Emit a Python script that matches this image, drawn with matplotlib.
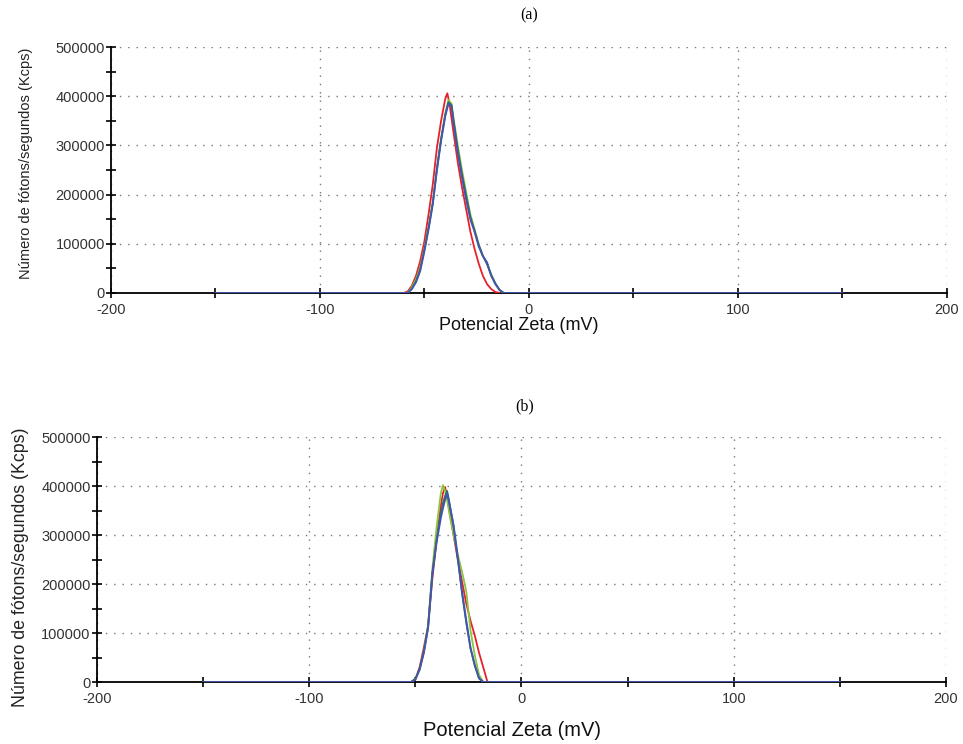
import matplotlib.pyplot as plt
from matplotlib.ticker import MultipleLocator

plt.rcParams['font.family'] = ['Liberation Sans', 'DejaVu Sans']
plt.rcParams['axes.unicode_minus'] = False

# panel (a) curves
red_a_x = [-60, -58, -56, -54, -52, -50, -48, -46, -44, -42, -40, -39, -38, -36, -34, -32, -30, -28, -26, -24, -22, -20, -18, -16, -14]
red_a_y = [0, 3000, 15000, 35000, 65000, 105000, 160000, 220000, 295000, 350000, 395000, 406000, 385000, 325000, 265000, 215000, 170000, 125000, 90000, 60000, 35000, 18000, 8000, 2000, 0]

ab_x = [-58, -56, -54, -52, -50, -48, -46, -44, -42, -40, -38.5, -37, -36, -34, -32, -30, -28, -26, -24, -22, -20, -18, -16, -14, -12]
green_a_y = [0, 12000, 28000, 52000, 90000, 135000, 185000, 255000, 315000, 365000, 392000, 385000, 355000, 300000, 250000, 205000, 160000, 130000, 100000, 75000, 60000, 38000, 20000, 6000, 0]
teal_a_y = [0, 9000, 24000, 48000, 88000, 132000, 182000, 252000, 312000, 362000, 388000, 382000, 350000, 292000, 242000, 198000, 155000, 127000, 98000, 76000, 58000, 36000, 19000, 6000, 0]
blue_a_y = [0, 8000, 22000, 45000, 85000, 130000, 180000, 250000, 310000, 360000, 385000, 380000, 345000, 285000, 235000, 190000, 150000, 125000, 95000, 75000, 62000, 35000, 18000, 6000, 0]

# panel (b) curves
x_b = [-52, -50, -48, -46, -44, -42, -40, -38, -37, -36, -35, -34, -32, -30, -28, -26, -24, -22, -20, -18, -16]
red_b_y = [0, 5000, 30000, 70000, 115000, 210000, 290000, 360000, 385000, 398000, 380000, 350000, 300000, 250000, 205000, 160000, 125000, 95000, 60000, 30000, 0]
green_b_y = [0, 8000, 25000, 60000, 115000, 230000, 315000, 385000, 402000, 390000, 370000, 345000, 300000, 260000, 225000, 185000, 105000, 55000, 15000, 0, 0]
teal_b_y = [0, 6000, 27000, 62000, 112000, 222000, 290000, 345000, 365000, 380000, 390000, 368000, 318000, 250000, 180000, 120000, 68000, 33000, 7000, 0, 0]
blue_b_y = [0, 5000, 25000, 60000, 110000, 220000, 285000, 335000, 355000, 372000, 385000, 365000, 320000, 255000, 185000, 125000, 70000, 35000, 8000, 0, 0]

x_ends = [-150, 150]

red = '#e5222c'
green = '#8cc63e'
teal = '#2a6f62'
blue = '#4256ad'


def style_axes(ax):
    ax.set_xlim(-200, 200)
    ax.set_ylim(0, 500000)
    ax.xaxis.set_major_locator(MultipleLocator(100))
    ax.xaxis.set_minor_locator(MultipleLocator(50))
    ax.yaxis.set_major_locator(MultipleLocator(100000))
    ax.yaxis.set_minor_locator(MultipleLocator(50000))
    ax.spines['top'].set_visible(False)
    ax.spines['right'].set_visible(False)
    ax.spines['left'].set_linewidth(1.3)
    ax.spines['bottom'].set_linewidth(1.3)
    ax.tick_params(which='both', direction='inout', length=7, width=1.2, labelsize=10.5, colors='black')
    ax.tick_params(axis='x', which='major', pad=4)
    ax.tick_params(axis='y', which='major', pad=1)
    ax.grid(True, which='major', linestyle=(0, (1, 5)), color='#777777', linewidth=1)
    ax.set_axisbelow(True)
    for lbl in ax.get_xticklabels() + ax.get_yticklabels():
        lbl.set_color('#333333')


fig = plt.figure(figsize=(9.63, 7.44), dpi=100)

ax1 = fig.add_axes([0.1153, 0.6062, 0.8677, 0.3306])
style_axes(ax1)
ax1.plot(red_a_x, red_a_y, color=red, lw=1.3, zorder=3)
ax1.plot(ab_x, green_a_y, color=green, lw=1.3, zorder=3)
ax1.plot(ab_x, teal_a_y, color=teal, lw=1.2, zorder=3)
ax1.plot([x_ends[0]] + ab_x + [x_ends[1]], [0] + blue_a_y + [0], color=blue, lw=1.4, zorder=3)

ax2 = fig.add_axes([0.1007, 0.0833, 0.8816, 0.3293])
style_axes(ax2)
ax2.plot(x_b, red_b_y, color=red, lw=1.3, zorder=3)
ax2.plot(x_b, green_b_y, color=green, lw=1.3, zorder=3)
ax2.plot(x_b, teal_b_y, color=teal, lw=1.2, zorder=3)
ax2.plot([x_ends[0]] + x_b + [x_ends[1]], [0] + blue_b_y + [0], color=blue, lw=1.4, zorder=3)

fig.text(0.549, 0.979, '(a)', family='Liberation Serif', fontsize=11.5, ha='center', va='center')
fig.text(0.545, 0.454, '(b)', family='Liberation Serif', fontsize=11.5, ha='center', va='center')

fig.text(0.539, 0.562, 'Potencial Zeta (mV)', fontsize=13, ha='center', va='center', color='#111111')
fig.text(0.532, 0.018, 'Potencial Zeta (mV)', fontsize=14.5, ha='center', va='center', color='#111111')

fig.text(0.027, 0.78, 'Número de fótons/segundos (Kcps)', fontsize=10.5, rotation=90, ha='center', va='center', color='#222222')
fig.text(0.021, 0.237, 'Número de fótons/segundos (Kcps)', fontsize=12.8, rotation=90, ha='center', va='center', color='#222222')

plt.savefig('out.png', dpi=100)
